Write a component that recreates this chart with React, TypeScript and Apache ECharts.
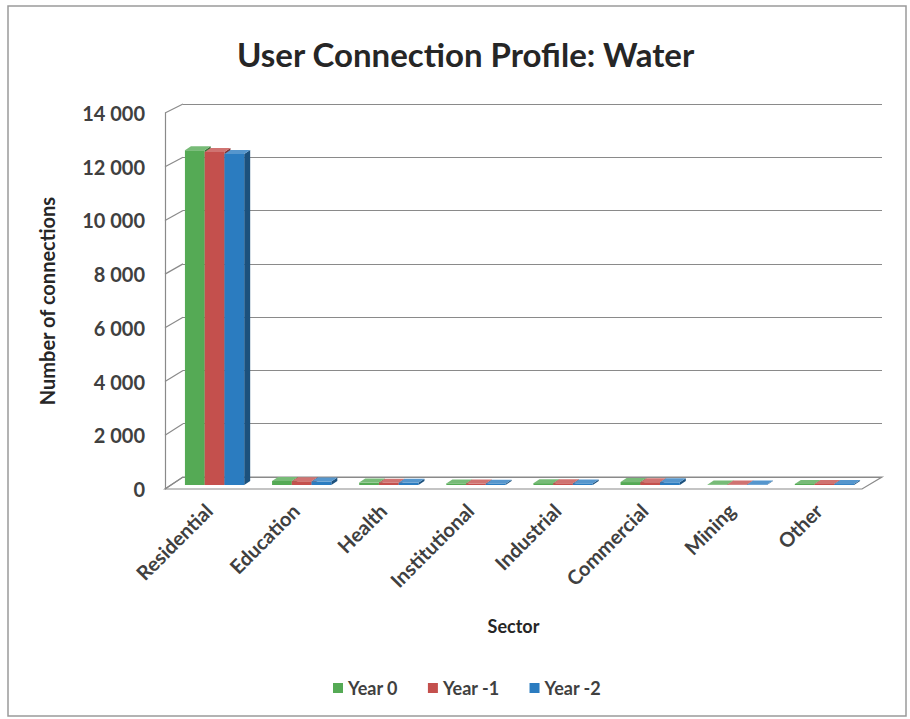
import React, { useEffect, useRef } from "react";
import * as echarts from "echarts";

// Sectors along the category axis
const categories = [
  "Residential",
  "Education",
  "Health",
  "Institutional",
  "Industrial",
  "Commercial",
  "Mining",
  "Other",
];

// Number of connections per sector for each year
const year0 = [12500, 150, 90, 60, 70, 110, 20, 40];
const year1 = [12430, 140, 85, 55, 65, 105, 20, 38];
const year2 = [12360, 130, 80, 50, 60, 100, 20, 35];

const seriesNames = ["Year 0", "Year -1", "Year -2"];
const seriesColors = ["#55AA55", "#C4504D", "#2B7CC0"];

// Value axis range
const Y_MIN = 0;
const Y_MAX = 14000;
const Y_STEP = 2000;

// Box layout: front plane, back wall and the plane the columns stand in
const FRONT = { left: 165, top: 113, right: 862, bottom: 489 };
const BACK = { left: 183, top: 104, right: 882, bottom: 477 };
const MID = { left: 171, top: 110, right: 868, bottom: 485 };

const DEPTH_X = 6;
const DEPTH_Y = 4;
const FONT = "Lato, 'Open Sans', sans-serif";
const TEXT = "#404040";
const FRAME = "#8a8a8a";

const fmt = (v: number) => String(v).replace(/\B(?=(\d{3})+(?!\d))/g, " ");

function shade(hex: string, f: number) {
  const n = parseInt(hex.slice(1), 16);
  const ch = [(n >> 16) & 255, (n >> 8) & 255, n & 255].map((c) =>
    Math.max(0, Math.min(255, Math.round(f >= 0 ? c + (255 - c) * f : c * (1 + f))))
  );
  return `rgb(${ch[0]},${ch[1]},${ch[2]})`;
}

function gridOf(b: { left: number; top: number; right: number; bottom: number }) {
  return {
    left: b.left,
    top: b.top,
    width: b.right - b.left,
    height: b.bottom - b.top,
    containLabel: false,
  };
}

function columnSeries(name: string, data: number[], idx: number, color: string) {
  return {
    type: "custom",
    name,
    xAxisIndex: 2,
    yAxisIndex: 2,
    z: 5,
    itemStyle: { color },
    data: data.map((v, i) => [i, v]),
    renderItem: (params: any, api: any) => {
      const i = api.value(0);
      const v = api.value(1);
      const base = api.coord([i, 0]);
      const top = api.coord([i, v]);
      const band = api.size([1, 0])[0];
      const cluster = band * 0.68;
      const w = cluster / 3;
      const x0 = base[0] - cluster / 2 + idx * w;
      const x1 = x0 + w;
      const yT = top[1];
      const yB = base[1];
      return {
        type: "group",
        children: [
          {
            type: "polygon",
            shape: {
              points: [
                [x1, yT],
                [x1 + DEPTH_X, yT - DEPTH_Y],
                [x1 + DEPTH_X, yB - DEPTH_Y],
                [x1, yB],
              ],
            },
            style: { fill: shade(color, -0.35) },
          },
          {
            type: "rect",
            shape: { x: x0, y: yT, width: w, height: Math.max(yB - yT, 0.5) },
            style: { fill: color },
          },
          {
            type: "polygon",
            shape: {
              points: [
                [x0, yT],
                [x0 + DEPTH_X, yT - DEPTH_Y],
                [x1 + DEPTH_X, yT - DEPTH_Y],
                [x1, yT],
              ],
            },
            style: { fill: shade(color, 0.2) },
          },
        ],
      };
    },
  };
}

export default function App() {
  const ref = useRef<HTMLDivElement>(null);

  useEffect(() => {
    if (!ref.current) return;
    const chart = echarts.init(ref.current, undefined, { renderer: "svg" });

    const valueAxis = {
      type: "value",
      min: Y_MIN,
      max: Y_MAX,
      interval: Y_STEP,
    };

    const option: any = {
      animation: false,
      backgroundColor: "#ffffff",
      title: {
        text: "User Connection Profile: Water",
        left: 232,
        top: 32,
        textStyle: { fontFamily: FONT, fontSize: 33, fontWeight: "bold", color: "#262626" },
      },
      legend: {
        data: seriesNames,
        bottom: 17,
        left: 328,
        icon: "rect",
        itemWidth: 10,
        itemHeight: 10,
        itemGap: 30,
        textStyle: { fontFamily: FONT, fontSize: 18, fontWeight: "bold", color: TEXT },
      },
      grid: [gridOf(FRONT), gridOf(BACK), gridOf(MID)],
      xAxis: [
        {
          type: "category",
          gridIndex: 0,
          data: categories,
          name: "Sector",
          nameLocation: "middle",
          nameGap: 128,
          nameTextStyle: { fontFamily: FONT, fontSize: 18, fontWeight: "bold", color: "#262626" },
          axisLine: { show: false },
          axisTick: { show: false },
          axisLabel: {
            rotate: 45,
            margin: 18,
            fontFamily: FONT,
            fontSize: 20,
            fontWeight: "bold",
            color: TEXT,
          },
        },
        { type: "category", gridIndex: 1, data: categories, show: false },
        { type: "category", gridIndex: 2, data: categories, show: false },
      ],
      yAxis: [
        {
          ...valueAxis,
          gridIndex: 0,
          name: "Number of connections",
          nameLocation: "middle",
          nameGap: 108,
          nameTextStyle: { fontFamily: FONT, fontSize: 20, fontWeight: "bold", color: "#262626" },
          axisLine: { show: true, lineStyle: { color: FRAME, width: 1.2 } },
          axisTick: { show: false },
          splitLine: { show: false },
          axisLabel: {
            margin: 20,
            fontFamily: FONT,
            fontSize: 20,
            fontWeight: "bold",
            color: TEXT,
            formatter: (v: number) => fmt(v),
          },
        },
        {
          ...valueAxis,
          gridIndex: 1,
          axisLine: { show: false },
          axisTick: { show: false },
          axisLabel: { show: false },
          splitLine: { show: true, lineStyle: { color: FRAME, width: 1.2 } },
        },
        { ...valueAxis, gridIndex: 2, show: false, splitLine: { show: false } },
      ],
      series: [
        columnSeries(seriesNames[0], year0, 0, seriesColors[0]),
        columnSeries(seriesNames[1], year1, 1, seriesColors[1]),
        columnSeries(seriesNames[2], year2, 2, seriesColors[2]),
      ],
    };

    chart.setOption(option);

    // Left wall ticks and floor outline, placed through the axes' own scales
    const frame: any[] = [];
    const yFront = (v: number) => chart.convertToPixel({ yAxisIndex: 0 }, v) as number;
    const yBack = (v: number) => chart.convertToPixel({ yAxisIndex: 1 }, v) as number;
    for (let v = Y_MIN; v <= Y_MAX; v += Y_STEP) {
      frame.push({
        type: "line",
        z: 0,
        shape: { x1: FRONT.left, y1: yFront(v), x2: BACK.left, y2: yBack(v) },
        style: { stroke: FRAME, lineWidth: 1.2 },
      });
    }
    frame.push({
      type: "polygon",
      z: 0,
      shape: {
        points: [
          [FRONT.left, yFront(0)],
          [FRONT.right, yFront(0)],
          [BACK.right, yBack(0)],
          [BACK.left, yBack(0)],
        ],
      },
      style: { fill: "none", stroke: FRAME, lineWidth: 1.2 },
    });
    frame.push({
      type: "rect",
      z: 0,
      shape: { x: 8, y: 6, width: 898, height: 710 },
      style: { fill: "none", stroke: "#9a9a9a", lineWidth: 1.5 },
    });
    chart.setOption({ graphic: frame });

    return () => chart.dispose();
  }, []);

  return <div ref={ref} style={{ width: 910, height: 719, position: "absolute", left: 0, top: 0 }} />;
}
